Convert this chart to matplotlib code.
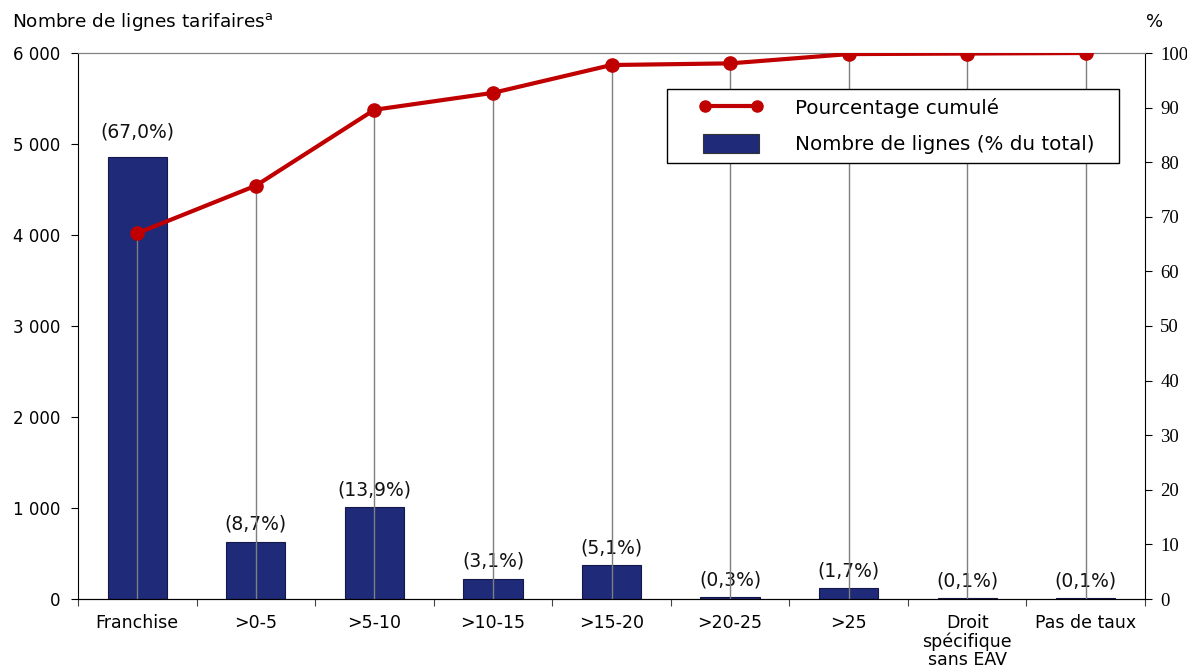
import matplotlib.pyplot as plt
from matplotlib.lines import Line2D
from matplotlib.patches import Patch
from matplotlib.legend_handler import HandlerLine2D, HandlerPatch
import numpy as np

# données
categories = ['Franchise', '>0-5', '>5-10', '>10-15', '>15-20', '>20-25', '>25',
              'Droit\nspécifique\nsans EAV', 'Pas de taux']
nb_lignes = [4858, 631, 1008, 225, 370, 22, 123, 7, 7]
pct_labels = ['(67,0%)', '(8,7%)', '(13,9%)', '(3,1%)', '(5,1%)', '(0,3%)', '(1,7%)', '(0,1%)', '(0,1%)']
pct_cumule = [67.0, 75.7, 89.6, 92.7, 97.8, 98.1, 99.8, 99.9, 100.0]
left_ticks = [0, 1000, 2000, 3000, 4000, 5000, 6000]
left_ticklabels = ['0', '1 000', '2 000', '3 000', '4 000', '5 000', '6 000']
right_ticks = list(range(0, 101, 10))

navy = '#1F2A78'
red = '#C00000'

plt.rcParams['font.family'] = ['DejaVu Sans']
plt.rcParams['font.size'] = 12

fig = plt.figure(figsize=(11.87, 6.69), dpi=100)
ax = fig.add_axes([78/1187, 70/669, 1067/1187, 546/669])
x = np.arange(len(categories))

ax.bar(x, nb_lignes, width=0.5, color=navy, edgecolor='#15194a', linewidth=0.8, zorder=2)
for xi, v, lab in zip(x, nb_lignes, pct_labels):
    off = 11 if xi == 0 else 5.5  # étiquette de la première barre un peu plus haute
    ax.annotate(lab, (xi, v), xytext=(0, off), textcoords='offset points',
                ha='center', va='bottom', fontsize=13.5, color='#111111')

ax.set_xlim(-0.5, len(categories) - 0.5)
ax.set_ylim(0, 6000)
ax.set_yticks(left_ticks)
ax.set_yticklabels(left_ticklabels)
ax.set_xticks(np.arange(len(categories) + 1) - 0.5)
ax.set_xticklabels([])
ax.set_xticks(x, minor=True)
ax.set_xticklabels(categories, minor=True, fontsize=12.5, linespacing=1.0)
ax.tick_params(axis='x', which='minor', length=0, pad=11)
ax.tick_params(axis='x', which='major', length=5, direction='out', color='#444444')
ax.tick_params(axis='y', length=5, direction='out', labelsize=12, pad=8)
ax.spines['top'].set_color('#808080')
ax.spines['right'].set_visible(False)

# axe de droite : pourcentage cumulé
ax2 = ax.twinx()
ax2.set_ylim(0, 100)
ax2.set_yticks(right_ticks)
ax2.tick_params(axis='y', length=5, direction='out', pad=6)
for t in ax2.get_yticklabels():
    t.set_family(['Liberation Serif'])
    t.set_fontsize(13.5)
ax2.spines['top'].set_color('#808080')
ax2.spines['left'].set_visible(False)

# lignes verticales vers l'axe
ax2.vlines(x, 0, pct_cumule, color='#7f7f7f', linewidth=1, zorder=1)
ax2.plot(x, pct_cumule, color=red, linewidth=3, marker='o', markersize=9.5, zorder=3)

handles = [Line2D([], [], color=red, linewidth=3, marker='o', markersize=8),
           Patch(facecolor=navy, edgecolor='#333333', linewidth=0.8)]
leg = ax2.legend(handles, ['Pourcentage cumulé', 'Nombre de lignes (% du total)'],
                 loc='upper left', bbox_to_anchor=(0.552, 0.802, 0.424, 0.132),
                 mode='expand', numpoints=2,
                 handlelength=4.2, handleheight=1.1, handletextpad=1.8,
                 labelspacing=0.8, borderpad=0.45, borderaxespad=0, fontsize=14.3,
                 fancybox=False, framealpha=1, edgecolor='black',
                 handler_map={Line2D: HandlerLine2D(xpad=1.35, numpoints=2, marker_pad=0.1),
                              Patch: HandlerPatch(xpad=1.35)})
leg.get_frame().set_linewidth(1)

fig.text(12/1187, 1 - 22/669, r'Nombre de lignes tarifaires$^{\rm a}$', fontsize=13.3,
         va='center', ha='left')
fig.text(1155/1187, 1 - 22/669, '%', fontsize=13, va='center', ha='center')

fig.savefig('out.png', dpi=100)
